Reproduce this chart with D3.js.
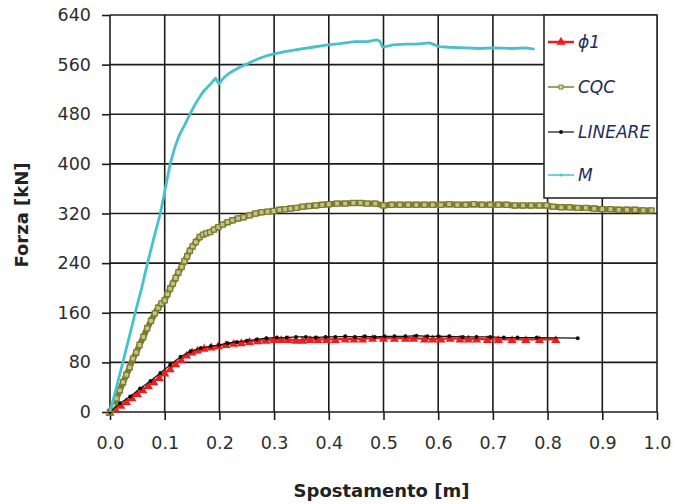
<!DOCTYPE html>
<html><head><meta charset="utf-8">
<script src="https://cdn.jsdelivr.net/npm/d3@7"></script>
<style>body{margin:0;background:#fff}svg{display:block}</style>
</head><body>
<svg id="c" width="681" height="504"></svg>
<script>
const xTicks = [0,0.1,0.2,0.3,0.4,0.5,0.6,0.7,0.8,0.9,1.0];
const yTicks = [0,80,160,240,320,400,480,560,640];
const seriesNames = ["ϕ1","CQC","LINEARE","M"];

const phiX = [0,0.010,0.020,0.030,0.040,0.050,0.060,0.070,0.080,0.090,0.100,0.110,0.120,0.130,0.140,0.150,0.160,0.172,0.185,0.198,0.212,0.226,0.240,0.255,0.270,0.285,0.300,0.313,0.326,0.340,0.352,0.366,0.380,0.396,0.412,0.430,0.446,0.462,0.480,0.500,0.520,0.540,0.555,0.575,0.590,0.605,0.622,0.640,0.655,0.670,0.690,0.710,0.735,0.760,0.785,0.815];
const phiY = [0,5,11,17,23,30,36,43,49,56,63,70,78,85,92,97,100,103,105,107,109,111,112,114,115,116,117,117,117,116,116,117,117,117,117,118,118,118,119,119,119,119,119,118,118,118,119,118,118,118,117,117,117,117,117,117];

const cqcX = [0,0.006,0.012,0.018,0.024,0.030,0.036,0.042,0.048,0.054,0.061,0.068,0.075,0.082,0.088,0.094,0.100,0.105,0.110,0.115,0.120,0.125,0.131,0.136,0.141,0.146,0.151,0.157,0.164,0.170,0.176,0.183,0.190,0.198,0.206,0.215,0.224,0.234,0.244,0.255,0.266,0.277,0.288,0.299,0.310,0.320,0.330,0.341,0.352,0.364,0.376,0.388,0.400,0.415,0.430,0.445,0.458,0.470,0.485,0.500,0.515,0.530,0.545,0.560,0.575,0.590,0.605,0.620,0.635,0.650,0.665,0.680,0.695,0.710,0.725,0.740,0.755,0.770,0.785,0.798,0.810,0.825,0.840,0.855,0.870,0.885,0.900,0.915,0.930,0.945,0.960,0.975,0.990];
const cqcY = [0,10,22,35,48,60,72,86,96,108,121,135,147,159,168,175,180,190,199,207,216,225,234,243,251,260,267,274,282,286,288,290,294,298,302,306,309,312,314,317,320,322,323,324,326,327,328,329,331,332,333,334,335,336,336,337,337,336,336,333,334,334,334,334,334,334,334,335,334,334,335,334,334,334,334,333,333,333,333,333,331,330,330,329,329,328,327,327,326,326,326,325,325];

const linX = [0,0.018,0.037,0.055,0.074,0.092,0.110,0.129,0.147,0.166,0.184,0.199,0.215,0.232,0.250,0.268,0.286,0.305,0.323,0.340,0.358,0.376,0.394,0.412,0.430,0.448,0.466,0.484,0.502,0.520,0.540,0.560,0.580,0.600,0.620,0.645,0.670,0.695,0.720,0.745,0.780,0.855];
const linY = [0,14,25,38,50,63,76,89,98,103,106,108,111,113,115,117,119,120,120,121,121,120,121,121,122,121,122,121,122,122,122,123,122,122,122,121,121,121,120,120,120,119];

const mX = [0,0.012,0.024,0.036,0.046,0.058,0.068,0.080,0.092,0.101,0.110,0.118,0.126,0.136,0.146,0.155,0.164,0.172,0.182,0.193,0.199,0.207,0.216,0.227,0.240,0.255,0.270,0.285,0.298,0.320,0.347,0.370,0.398,0.420,0.447,0.470,0.487,0.493,0.499,0.517,0.540,0.560,0.584,0.602,0.620,0.650,0.675,0.700,0.736,0.760,0.776];
const mY = [0,40,82,124,160,200,238,280,320,360,400,425,445,462,480,495,508,518,527,538,529,538,545,551,557,563,569,574,577,581,585,588,592,594,597,597,600,598,588,592,593,593,595,589,588,587,586,587,586,587,585];

const svg = d3.select("#c");
const X0 = 110, X1 = 657, Y0 = 412, Y1 = 15;
const x = d3.scaleLinear().domain([0,1]).range([X0,X1]);
const y = d3.scaleLinear().domain([0,640]).range([Y0,Y1]);
const gridColor = "#1c1c1c";

// gridlines
const g = svg.append("g");
g.selectAll("line.vx").data(xTicks).join("line")
  .attr("x1", d=>x(d)).attr("x2", d=>x(d)).attr("y1", Y1).attr("y2", Y0)
  .attr("stroke", gridColor).attr("stroke-width", 1.6);
g.selectAll("line.hy").data(yTicks).join("line")
  .attr("x1", X0).attr("x2", X1).attr("y1", d=>y(d)).attr("y2", d=>y(d))
  .attr("stroke", gridColor).attr("stroke-width", 1.6);

// axes
const fontTick = "'DejaVu Sans', sans-serif";
const ax = svg.append("g").attr("transform", `translate(0,${Y0})`)
  .call(d3.axisBottom(x).tickValues(xTicks).tickFormat(d3.format(".1f")).tickSizeInner(8).tickSizeOuter(0));
ax.select(".domain").remove();
ax.selectAll("line").attr("stroke", gridColor).attr("stroke-width", 1.6);
ax.selectAll("text").attr("y", 37).attr("dy", null).attr("fill", "#2e2e2e")
  .style("font-family", fontTick).style("font-size", "17.5px");

const ay = svg.append("g").attr("transform", `translate(${X0},0)`)
  .call(d3.axisLeft(y).tickValues(yTicks).tickFormat(d3.format("d")).tickSizeInner(8).tickSizeOuter(0).tickPadding(11));
ay.select(".domain").remove();
ay.selectAll("line").attr("stroke", gridColor).attr("stroke-width", 1.6);
ay.selectAll("text").attr("fill", "#2e2e2e")
  .style("font-family", fontTick).style("font-size", "17.5px");

// axis titles
svg.append("text").attr("x", (X0+X1)/2 - 2).attr("y", 497).attr("text-anchor","middle")
  .style("font-family", fontTick).style("font-weight","bold").style("font-size","18px").attr("fill","#222")
  .text("Spostamento [m]");
svg.append("text").attr("transform","translate(28,215) rotate(-90)").attr("text-anchor","middle")
  .style("font-family", fontTick).style("font-weight","bold").style("font-size","18px").attr("fill","#222")
  .text("Forza [kN]");

const line = d3.line().x(d=>x(d[0])).y(d=>y(d[1]));
const tri = d3.symbol().type(d3.symbolTriangle).size(36);
const sq = d3.symbol().type(d3.symbolSquare).size(26);

const phi = phiX.map((v,i)=>[v,phiY[i]]);
const cqc = cqcX.map((v,i)=>[v,cqcY[i]]);
const lin = linX.map((v,i)=>[v,linY[i]]);
const mm = mX.map((v,i)=>[v,mY[i]]);

const cRed = "#f01c1c", cOlive = "#7d7d2c", cBlack = "#111", cCyan = "#48c2ca";

// phi1
svg.append("path").datum(phi).attr("d", line).attr("fill","none").attr("stroke",cRed).attr("stroke-width",2.2);
svg.append("g").selectAll("path").data(phi).join("path")
  .attr("transform", d=>`translate(${x(d[0])},${y(d[1])+1})`).attr("d", tri).attr("fill", cRed);

// CQC
svg.append("path").datum(cqc).attr("d", line).attr("fill","none").attr("stroke",cOlive).attr("stroke-width",6);
svg.append("g").selectAll("path").data(cqc).join("path")
  .attr("transform", d=>`translate(${x(d[0])},${y(d[1])})`).attr("d", sq)
  .attr("fill", "#c4c48e").attr("stroke", cOlive).attr("stroke-width", 1.3);

// LINEARE
svg.append("path").datum(lin).attr("d", line).attr("fill","none").attr("stroke",cBlack).attr("stroke-width",1.2);
svg.append("g").selectAll("circle").data(lin).join("circle")
  .attr("cx", d=>x(d[0])).attr("cy", d=>y(d[1])).attr("r", 2).attr("fill", cBlack);

// M
svg.append("path").datum(mm).attr("d", line).attr("fill","none").attr("stroke",cCyan).attr("stroke-width",2.8).attr("stroke-linejoin","round");

// legend
const L = svg.append("g");
L.append("rect").attr("x",544).attr("y",15).attr("width",113).attr("height",183)
  .attr("fill","#fff").attr("stroke","#2a2a2a").attr("stroke-width",1.6);
const legY = [42, 87, 132, 175];
const legCol = [cRed, cOlive, cBlack, cCyan];
const legW = [2.5, 1.5, 1.2, 1.5];
seriesNames.forEach((n,i)=>{
  const yy = legY[i];
  L.append("line").attr("x1",548).attr("x2",574).attr("y1",yy).attr("y2",yy)
    .attr("stroke",legCol[i]).attr("stroke-width",legW[i]);
  if(i===0) L.append("path").attr("transform",`translate(561,${yy})`).attr("d",tri).attr("fill",cRed);
  if(i===1) L.append("path").attr("transform",`translate(561,${yy})`).attr("d",d3.symbol().type(d3.symbolSquare).size(16))
      .attr("fill","#d9d9b0").attr("stroke",cOlive).attr("stroke-width",1);
  if(i===2) L.append("circle").attr("cx",561).attr("cy",yy).attr("r",2).attr("fill",cBlack);
  if(i===3) L.append("circle").attr("cx",561).attr("cy",yy).attr("r",1.5).attr("fill",cCyan);
  L.append("text").attr("x",578).attr("y",yy+6).text(n)
    .style("font-family",fontTick).style("font-style","italic").style("font-size","17px").attr("fill","#1e2c5c");
});
</script>
</body></html>
